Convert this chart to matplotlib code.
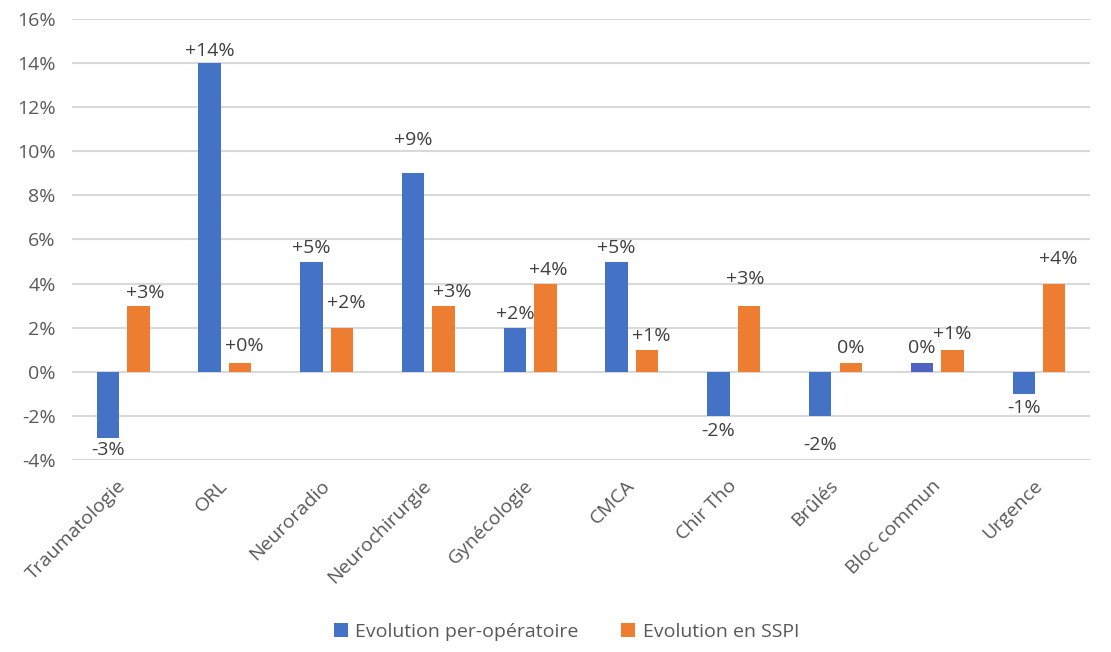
import matplotlib
matplotlib.use("Agg")
import matplotlib.pyplot as plt
import numpy as np

categories = ["Traumatologie", "ORL", "Neuroradio", "Neurochirurgie", "Gynécologie",
              "CMCA", "Chir Tho", "Brûlés", "Bloc commun", "Urgence"]
per_op = [-3, 14, 5, 9, 2, 5, -2, -2, 0.4, -1]
sspi = [3, 0.4, 2, 3, 4, 1, 3, 0.4, 1, 4]
per_op_labels = ["-3%", "+14%", "+5%", "+9%", "+2%", "+5%", "-2%", "-2%", "0%", "-1%"]
sspi_labels = ["+3%", "+0%", "+2%", "+3%", "+4%", "+1%", "+3%", "0%", "+1%", "+4%"]

# label offsets in points (x, y), Excel labels were nudged by hand
per_op_off = [(0, -9), (0, 9), (0, 10), (0, 24), (0, 10), (0, 10), (0, -11), (0, -21), (0, 11), (0, -10)]
sspi_off = [(5, 9), (3, 12), (3, 18), (6, 10), (2, 10), (3, 10), (-3, 19), (0, 11), (0, 11), (3, 18)]

blue = "#4472C4"
orange = "#ED7D31"

plt.rcParams['font.family'] = ['Open Sans', 'DejaVu Sans']
fs = 14

fig = plt.figure(figsize=(11.11, 6.52), dpi=100)
ax = fig.add_axes([0.065, 0.2945, 0.916, 0.6765])

x = np.arange(len(categories))
w = 0.22
colors_b = [blue] * len(categories)
colors_b[8] = "#4F63C4"
ax.bar(x - 0.15, per_op, w, color=colors_b, label="Evolution per-opératoire", zorder=3)
ax.bar(x + 0.15, sspi, w, color=orange, label="Evolution en SSPI", zorder=3)

for i in range(len(categories)):
    ax.annotate(per_op_labels[i], (x[i] - 0.15, per_op[i]), xytext=per_op_off[i],
                textcoords="offset points", ha="center", va="center",
                fontsize=fs, color="#404040")
    ax.annotate(sspi_labels[i], (x[i] + 0.15, sspi[i]), xytext=sspi_off[i],
                textcoords="offset points", ha="center", va="center",
                fontsize=fs, color="#404040")

ax.set_xlim(-0.5, len(categories) - 0.5)
ax.set_ylim(-4, 16)
ax.set_yticks(np.arange(-4, 17, 2))
ax.set_yticklabels([f"{v}%" for v in range(-4, 17, 2)], fontsize=fs, color="#595959")
ax.grid(axis="y", color="#D9D9D9", linewidth=1.5, zorder=0)
ax.tick_params(axis="both", length=0)
ax.tick_params(axis="y", pad=12)
for s in ax.spines.values():
    s.set_visible(False)

ax.set_xticks(x - 0.06)
ax.set_xticklabels(categories, rotation=45, ha="right", rotation_mode="anchor",
                   fontsize=fs, color="#595959")
ax.tick_params(axis="x", pad=12)

fig.legend(loc="lower center", bbox_to_anchor=(0.51, -0.01), ncol=2, frameon=False,
           fontsize=fs, labelcolor="#595959", handlelength=0.7, handleheight=0.7,
           handletextpad=0.4, columnspacing=2.2)

fig.savefig("out.png", dpi=100)
